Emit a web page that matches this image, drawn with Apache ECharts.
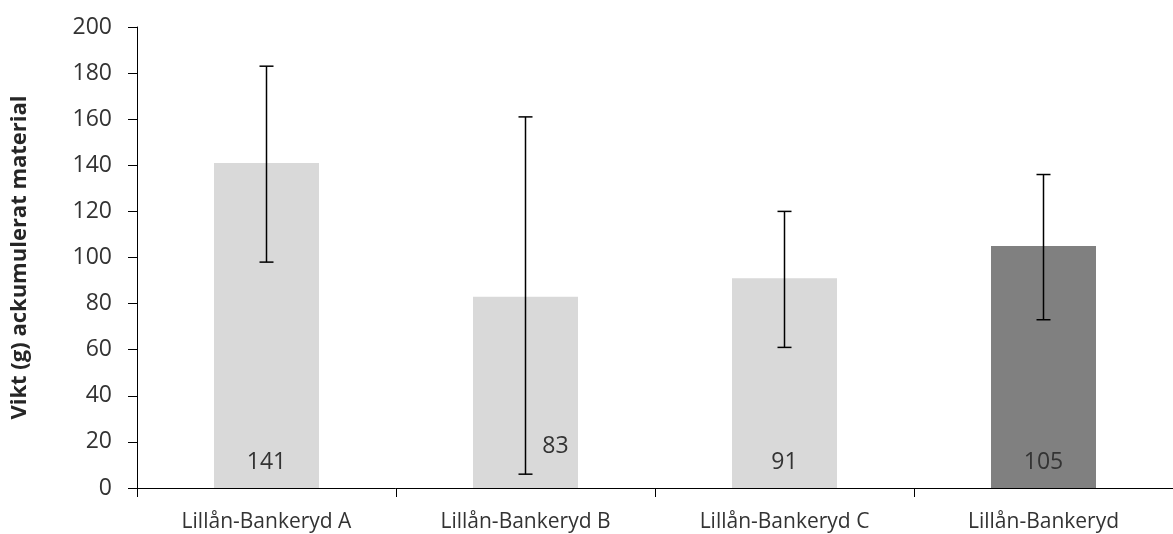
<!DOCTYPE html>
<html>
<head>
<meta charset="utf-8">
<script src="https://cdn.jsdelivr.net/npm/echarts@6/dist/echarts.min.js"></script>
<style>
  html, body { margin: 0; padding: 0; background: #fff; }
  #chart { width: 1173px; height: 534px; }
</style>
</head>
<body>
<div id="chart"></div>
<script>
const categories = ["Lillån-Bankeryd A", "Lillån-Bankeryd B", "Lillån-Bankeryd C", "Lillån-Bankeryd"];
const values = [141, 83, 91, 105];
const errLow = [98, 6, 61, 73];
const errHigh = [183, 161, 120, 136];
const barColors = ["#d9d9d9", "#d9d9d9", "#d9d9d9", "#808080"];

const chart = echarts.init(document.getElementById("chart"));

const barData = values.map((v, i) => {
  const item = { value: v, itemStyle: { color: barColors[i] } };
  // B label sits beside the error bar
  if (i === 1) {
    item.label = { offset: [30, -16] };
  }
  return item;
});

const errData = values.map((v, i) => [i, errLow[i], errHigh[i]]);

const option = {
  animation: false,
  grid: { left: 137, right: -12, top: 27, bottom: 46 },
  xAxis: {
    type: "category",
    data: categories,
    axisLine: { lineStyle: { color: "#000", width: 1 } },
    axisTick: { show: true, length: 9, lineStyle: { color: "#000" } },
    axisLabel: { color: "#333", fontSize: 21, fontFamily: "Open Sans", margin: 24 },
  },
  yAxis: {
    type: "value",
    min: 0,
    max: 200,
    interval: 20,
    name: "Vikt (g) ackumulerat material",
    nameLocation: "middle",
    nameGap: 106,
    nameTextStyle: { color: "#262626", fontSize: 22, fontWeight: "bold", fontFamily: "Open Sans" },
    axisLine: { show: true, lineStyle: { color: "#000", width: 1 } },
    axisTick: { show: true, length: 9, lineStyle: { color: "#000" } },
    splitLine: { show: false },
    axisLabel: { color: "#333", fontSize: 23, fontFamily: "Open Sans", margin: 25 },
  },
  series: [
    {
      type: "bar",
      data: barData,
      barWidth: 105,
      label: {
        show: true,
        position: "insideBottom",
        distance: 14,
        color: "#333",
        fontSize: 23,
        fontFamily: "Open Sans",
      },
    },
    {
      type: "custom",
      data: errData,
      z: 10,
      renderItem: (params, api) => {
        const x = api.value(0);
        const lo = api.coord([x, api.value(1)]);
        const hi = api.coord([x, api.value(2)]);
        const half = 7;
        const style = { stroke: "#000", lineWidth: 1.5 };
        return {
          type: "group",
          children: [
            { type: "line", shape: { x1: lo[0], y1: lo[1], x2: hi[0], y2: hi[1] }, style },
            { type: "line", shape: { x1: hi[0] - half, y1: hi[1], x2: hi[0] + half, y2: hi[1] }, style },
            { type: "line", shape: { x1: lo[0] - half, y1: lo[1], x2: lo[0] + half, y2: lo[1] }, style },
          ],
        };
      },
    },
  ],
};

chart.setOption(option);
</script>
</body>
</html>
